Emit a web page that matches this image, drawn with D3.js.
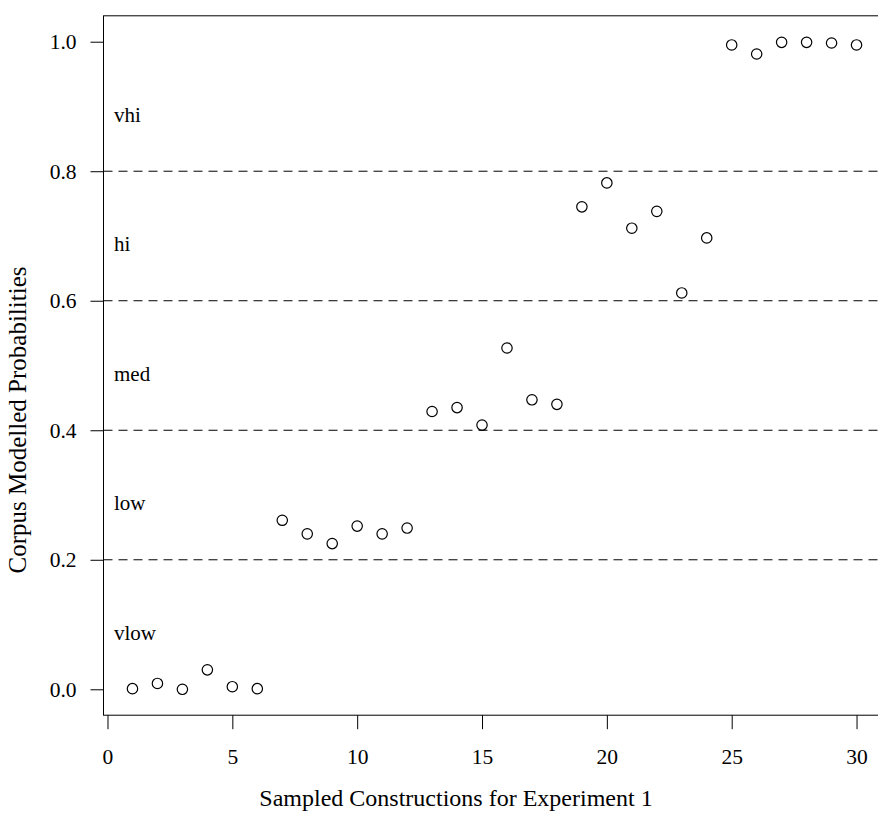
<!DOCTYPE html>
<html>
<head>
	<meta charset="utf-8">
	<title>Corpus Modelled Probabilities</title>
	<script src="https://cdn.jsdelivr.net/npm/d3@7"></script>
	<style>
		body { margin: 0; background: #fff; }
		svg text { font-family: "Liberation Serif", "Times New Roman", serif; fill: #000; }
		.tick line, .box, .cut { stroke: #000; stroke-width: 1; }
	</style>
</head>
<body>
<div id="chart"></div>
<script>

// sampled constructions 1..30 and their modelled probabilities
var constructions = d3.range(1, 31);
var probabilities = [
	0.001, 0.009, 0.000, 0.030, 0.004, 0.001,
	0.261, 0.240, 0.225, 0.252, 0.240, 0.249,
	0.429, 0.435, 0.408, 0.527, 0.447, 0.440,
	0.745, 0.782, 0.712, 0.738, 0.612, 0.697,
	0.995, 0.981, 0.999, 0.999, 0.998, 0.995
];

// band boundaries (dashed) and band names
var cutoffs = [0.2, 0.4, 0.6, 0.8];
var bandNames = ["vlow", "low", "med", "hi", "vhi"];
var bandMids = [0.1, 0.3, 0.5, 0.7, 0.9];

var xTicks = [0, 5, 10, 15, 20, 25, 30];
var yTicks = [0, 0.2, 0.4, 0.6, 0.8, 1.0];

var W = 878, H = 814;
var mLeft = 103.5, mTop = 15.8;
var plotW = 782, plotH = 699.4;

var svg = d3.select("#chart").append("svg")
	.attr("width", W).attr("height", H);

// R style: data range padded 4% each side
var x = d3.scaleLinear().domain([-0.16, 31.16]).range([mLeft, mLeft + plotW]);
var y = d3.scaleLinear().domain([-0.04, 1.04]).range([mTop + plotH, mTop]);

// dashed cutoff lines across the plot
svg.selectAll(".cut").data(cutoffs).enter().append("line")
	.attr("class", "cut")
	.attr("x1", mLeft).attr("x2", mLeft + plotW)
	.attr("y1", function(d) { return y(d); })
	.attr("y2", function(d) { return y(d); })
	.style("stroke-dasharray", "9,6");

// band labels
svg.selectAll(".band").data(bandNames).enter().append("text")
	.attr("class", "band")
	.attr("x", mLeft + 10.5)
	.attr("y", function(d, i) { return y(bandMids[i]); })
	.attr("dy", "0.72em")
	.style("font-size", "21px")
	.text(function(d) { return d; });

// points
svg.selectAll(".pt").data(probabilities).enter().append("circle")
	.attr("class", "pt")
	.attr("cx", function(d, i) { return x(constructions[i]); })
	.attr("cy", function(d) { return y(d); })
	.attr("r", 5.2)
	.style("fill", "none")
	.style("stroke", "#000")
	.style("stroke-width", 1.2);

// box
svg.append("rect")
	.attr("class", "box")
	.attr("x", mLeft).attr("y", mTop)
	.attr("width", plotW).attr("height", plotH)
	.style("fill", "none");

// axes
var yAxis = d3.axisLeft(y)
	.tickValues(yTicks)
	.tickFormat(d3.format(".1f"))
	.tickSize(13)
	.tickPadding(14);

var gy = svg.append("g")
	.attr("transform", "translate(" + mLeft + ",0)")
	.call(yAxis);
gy.select(".domain").remove();
gy.selectAll("text").style("font-size", "21.5px").style("font-family", null);

var xAxis = d3.axisBottom(x)
	.tickValues(xTicks)
	.tickSize(14)
	.tickPadding(19.5);

var gx = svg.append("g")
	.attr("transform", "translate(0," + (mTop + plotH) + ")")
	.call(xAxis);
gx.select(".domain").remove();
gx.selectAll("text").style("font-size", "21.5px").style("font-family", null);

// axis titles
svg.append("text")
	.attr("x", 456).attr("y", 806)
	.attr("text-anchor", "middle")
	.style("font-size", "24px")
	.text("Sampled Constructions for Experiment 1");

svg.append("text")
	.attr("transform", "translate(26,420) rotate(-90)")
	.attr("text-anchor", "middle")
	.style("font-size", "25px")
	.text("Corpus Modelled Probabilities");

</script>
</body>
</html>
